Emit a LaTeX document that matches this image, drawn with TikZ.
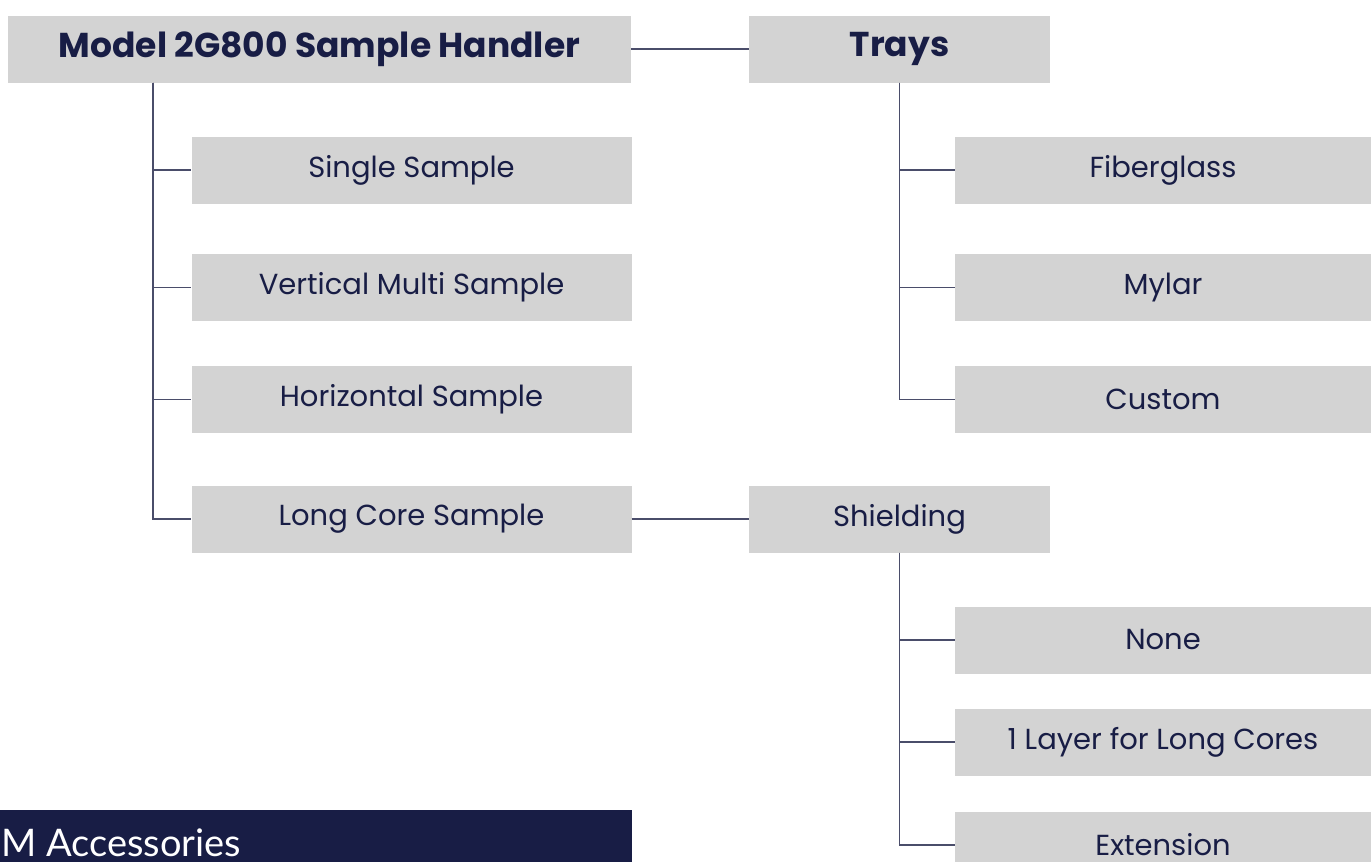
\documentclass[tikz,border=0pt]{standalone}
\usepackage{fontspec}
\setmainfont{Poppins}
\newfontfamily\bandfont{Lato}
\usepackage{xcolor}
\usepackage{tikz}
\usetikzlibrary{positioning}
\definecolor{boxgray}{HTML}{D3D3D3}
\definecolor{navy}{HTML}{181D45}
\definecolor{linegray}{HTML}{4A4D6A}
\tikzset{
  item/.style={rectangle, fill=boxgray, text=navy, inner sep=0pt, minimum height=67pt, font=\fontsize{29}{34}\selectfont},
  head/.style={item, font=\fontsize{34.5}{40}\selectfont\bfseries},
  link/.style={draw=linegray, line width=1.4pt},
}

\begin{document}
\begin{tikzpicture}[x=1pt, y=-1pt]
    \clip (0,0) rectangle (1371,862);
    \fill[white] (0,0) rectangle (1371,862);

    % Sample handler
    \node[head, minimum width=623pt] (handler) at (319.5,49) {Model 2G800 Sample Handler};
    \coordinate (htrunk) at (153,0);

    % Handler options
    \node[item, minimum width=440pt] (single) at (411.5,170) {Single Sample};
    \node[item, minimum width=440pt] (vmulti) at (411.5,287.5) {Vertical Multi Sample};
    \node[item, minimum width=440pt] (horiz) at (411.5,399.5) {Horizontal Sample};
    \node[item, minimum width=440pt] (longcore) at (411.5,519) {Long Core Sample};

    % Trays
    \node[head, minimum width=301pt] (trays) at (899.5,49) {Trays};
    \node[item, minimum width=416pt] (fiber) at (1163,170) {Fiberglass};
    \node[item, minimum width=416pt] (mylar) at (1163,287.5) {Mylar};
    \node[item, minimum width=416pt] (custom) at (1163,399.5) {Custom};

    % Shielding
    \node[item, minimum width=301pt] (shield) at (899.5,519) {Shielding};
    \node[item, minimum width=416pt] (none) at (1163,640) {None};
    \node[item, minimum width=416pt] (layer) at (1163,742) {1 Layer for Long Cores};
    \node[item, minimum width=416pt] (ext) at (1163,845) {Extension};

    % Accessories band
    \node[rectangle, fill=navy, inner sep=0pt, minimum width=632pt, minimum height=52pt, anchor=north west] (band) at (0,810) {};
    \node[anchor=base west, inner sep=0pt, text=white, font=\bandfont\fontsize{38}{44}\selectfont] (bandlabel) at (1,856) {M Accessories};

    % Connections
    \draw[link] (handler.east) -- (trays.west);
    \draw[link] (longcore.east) -- (shield.west);
    \foreach \n in {single,vmulti,horiz,longcore}
        \draw[link] (handler.south -| htrunk) |- (\n.west);
    \foreach \n in {fiber,mylar,custom}
        \draw[link] (trays.south) |- (\n.west);
    \foreach \n in {none,layer,ext}
        \draw[link] (shield.south) |- (\n.west);
\end{tikzpicture}
\end{document}
